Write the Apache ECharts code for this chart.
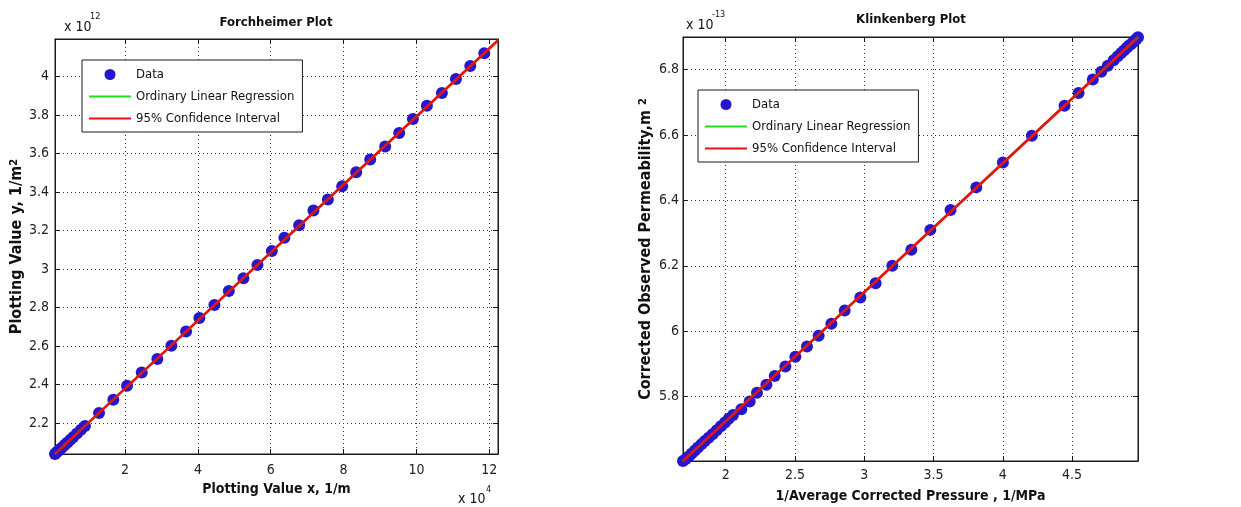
<!DOCTYPE html>
<html>
<head>
<meta charset="utf-8">
<title>Forchheimer and Klinkenberg plots</title>
<script src="https://cdn.jsdelivr.net/npm/echarts@6/dist/echarts.min.js"></script>
<style>
  html, body { margin: 0; padding: 0; background: #fff; }
  #chart { width: 1241px; height: 507px; }
</style>
</head>
<body>
<div id="chart"></div>
<script>
// Forchheimer plot (x in 1e4 1/m, y in 1e12 1/m^2)
const forchX = [0.077, 0.11, 0.15, 0.19, 0.24, 0.29, 0.35, 0.42, 0.50, 0.58, 0.68, 0.79, 0.90,
  1.286, 1.679, 2.055, 2.459, 2.887, 3.272, 3.676, 4.041, 4.453, 4.849, 5.250, 5.635, 6.030,
  6.376, 6.780, 7.173, 7.569, 7.962, 8.346, 8.731, 9.143, 9.527, 9.904, 10.288, 10.700, 11.085,
  11.478, 11.863]
const forchY = [2.039, 2.045, 2.052, 2.059, 2.067, 2.076, 2.087, 2.099, 2.113, 2.127, 2.145, 2.165, 2.184,
  2.252, 2.321, 2.394, 2.463, 2.532, 2.601, 2.676, 2.746, 2.813, 2.886, 2.952, 3.021, 3.094,
  3.163, 3.228, 3.304, 3.361, 3.430, 3.503, 3.569, 3.637, 3.707, 3.779, 3.848, 3.914, 3.987,
  4.055, 4.121]
const forchFitX = [0.077, 12.24]
const forchFitY = [2.039, 4.188]
const forchCiLow = [2.036, 4.184]
const forchCiHigh = [2.042, 4.192]

// Klinkenberg plot (x in 1/MPa, y in 1e-13 m^2)
const klinkX = [1.692, 1.712, 1.733, 1.755, 1.778, 1.800, 1.825, 1.850, 1.877, 1.905, 1.935, 1.965, 1.995, 2.022,
  2.053, 2.113, 2.173, 2.226, 2.294, 2.354, 2.431, 2.503, 2.587, 2.671, 2.763, 2.859, 2.972, 3.082,
  3.203, 3.340, 3.477, 3.623, 3.809, 4.001, 4.210, 4.446, 4.547, 4.650, 4.711, 4.758, 4.800, 4.830,
  4.855, 4.875, 4.895, 4.910, 4.925, 4.940, 4.955, 4.965, 4.976]
const klinkY = [5.603, 5.609, 5.617, 5.626, 5.635, 5.644, 5.654, 5.664, 5.674, 5.685, 5.697, 5.709, 5.721, 5.732,
  5.744, 5.761, 5.785, 5.812, 5.836, 5.863, 5.892, 5.922, 5.953, 5.986, 6.023, 6.063, 6.103, 6.147,
  6.200, 6.249, 6.310, 6.371, 6.440, 6.516, 6.598, 6.690, 6.729, 6.770, 6.794, 6.812, 6.829, 6.841,
  6.851, 6.859, 6.867, 6.873, 6.878, 6.884, 6.890, 6.894, 6.899]
const klinkFitX = [1.692, 4.976]
const klinkFitY = [5.603, 6.899]
const klinkCiLow = [5.601, 6.896]
const klinkCiHigh = [5.605, 6.902]

const FONT = '"Liberation Sans Narrow", "DejaVu Sans Condensed", "Liberation Sans", Arial, sans-serif'
const INK = '#1a1a1a'
const BLUE = '#2616cc'
const GREEN = '#22dd22'
const RED = '#e81010'

// line entries hide the little symbol the legend puts on line icons
const legendItems = [
  { name: 'Data' },
  { name: 'Ordinary Linear Regression', itemStyle: { opacity: 0 } },
  { name: '95% Confidence Interval', itemStyle: { opacity: 0 } }
]

function zip(xs, ys) {
  return xs.map((x, i) => [x, ys[i]])
}

// one value axis, MATLAB look: ticks inside, dotted grid
function axis(grid, pos, min, max, step, extra) {
  const main = pos === 'bottom' || pos === 'left'
  return Object.assign({
    type: 'value',
    gridIndex: grid,
    position: pos,
    min: min,
    max: max,
    minInterval: step,
    maxInterval: step,
    splitNumber: Math.round((max - min) / step),
    axisLine: { show: true, lineStyle: { color: INK, width: 1 } },
    axisTick: { show: true, inside: true, length: 5, lineStyle: { color: INK } },
    axisLabel: {
      show: main,
      showMinLabel: false,
      showMaxLabel: false,
      fontSize: 14,
      fontFamily: FONT,
      color: '#222'
    },
    splitLine: {
      show: main,
      lineStyle: { color: '#333', width: 1, type: [1, 3] }
    }
  }, extra || {})
}

function nameStyle(size) {
  return {
    fontSize: size,
    fontWeight: 'bold',
    fontFamily: FONT,
    color: '#111',
    rich: {
      sup: { fontSize: size - 5, fontWeight: 'bold', fontFamily: FONT, color: '#111', lineHeight: 6, verticalAlign: 'top' }
    }
  }
}

function legendBox(left, top) {
  return {
    orient: 'vertical',
    left: left,
    top: top,
    data: legendItems,
    selectedMode: false,
    itemWidth: 42,
    itemHeight: 11,
    itemGap: 9,
    padding: [8, 8, 7, 6],
    backgroundColor: '#fff',
    borderColor: INK,
    borderWidth: 1,
    borderRadius: 0,
    textStyle: { fontSize: 13, fontFamily: FONT, color: '#111' }
  }
}

function plotSeries(idx, xs, ys, fitX, fitY, lo, hi) {
  const line = (name, data, color, width, z) => ({
    name: name,
    type: 'line',
    xAxisIndex: idx,
    yAxisIndex: idx,
    data: data,
    symbol: 'none',
    itemStyle: { color: color },
    lineStyle: { color: color, width: width },
    z: z
  })
  return [{
    name: 'Data',
    type: 'scatter',
    xAxisIndex: idx,
    yAxisIndex: idx,
    data: zip(xs, ys),
    symbolSize: 12,
    itemStyle: { color: BLUE, opacity: 1 },
    z: 2
  },
  line('Ordinary Linear Regression', zip(fitX, fitY), GREEN, 2, 3),
  line('95% Confidence Interval', zip(fitX, lo), RED, 1.5, 4),
  line('95% Confidence Interval', zip(fitX, hi), RED, 1.5, 4)]
}

function label(x, y, text, size, bold, align) {
  return {
    type: 'text',
    x: x,
    y: y,
    silent: true,
    style: {
      text: text,
      fontSize: size,
      fontWeight: bold ? 'bold' : 'normal',
      fontFamily: FONT,
      fill: '#111',
      align: align || 'left',
      verticalAlign: 'middle'
    }
  }
}

const option = {
  animation: false,
  backgroundColor: '#fff',
  grid: [
    { left: 55, top: 39, width: 443, height: 415, show: true, borderColor: INK, borderWidth: 1, backgroundColor: '#fff', outerBoundsMode: 'none' },
    { left: 683, top: 37, width: 455, height: 424, show: true, borderColor: INK, borderWidth: 1, backgroundColor: '#fff', outerBoundsMode: 'none' }
  ],
  legend: [legendBox(82, 60), legendBox(698, 90)],
  xAxis: [
    axis(0, 'bottom', 0.077, 12.24, 2, {
      name: 'Plotting Value x, 1/m', nameLocation: 'middle', nameGap: 27, nameTextStyle: nameStyle(14)
    }),
    axis(1, 'bottom', 1.692, 4.976, 0.5, {
      name: '1/Average Corrected Pressure , 1/MPa', nameLocation: 'middle', nameGap: 28, nameTextStyle: nameStyle(14)
    }),
    axis(0, 'top', 0.077, 12.24, 2),
    axis(1, 'top', 1.692, 4.976, 0.5)
  ],
  yAxis: [
    axis(0, 'left', 2.039, 4.195, 0.2, {
      name: 'Plotting Value y, 1/m{sup|2}', nameLocation: 'middle', nameGap: 30, nameTextStyle: nameStyle(16)
    }),
    axis(1, 'left', 5.603, 6.9, 0.2, {
      name: 'Corrected Observed Permeability,m {sup|2}', nameLocation: 'middle', nameGap: 29, nameTextStyle: nameStyle(16)
    }),
    axis(0, 'right', 2.039, 4.195, 0.2),
    axis(1, 'right', 5.603, 6.9, 0.2)
  ],
  graphic: [
    label(276, 23, 'Forchheimer Plot', 13, true, 'center'),
    label(911, 20, 'Klinkenberg Plot', 13, true, 'center'),
    label(64, 27, 'x 10', 14),
    label(90, 17, '12', 9),
    label(458, 499, 'x 10', 14),
    label(486, 490, '4', 9),
    label(686, 25, 'x 10', 14),
    label(712, 15, '-13', 9)
  ],
  series: plotSeries(0, forchX, forchY, forchFitX, forchFitY, forchCiLow, forchCiHigh)
    .concat(plotSeries(1, klinkX, klinkY, klinkFitX, klinkFitY, klinkCiLow, klinkCiHigh))
}

// axis indexes: 0/1 are the bottom+left axes of each plot
option.yAxis[0].axisLabel.margin = 6
option.yAxis[1].axisLabel.margin = 4
option.xAxis[0].axisLabel.margin = 9
option.xAxis[1].axisLabel.margin = 7

const myChart = echarts.init(document.getElementById('chart'))
myChart.setOption(option)
</script>
</body>
</html>
